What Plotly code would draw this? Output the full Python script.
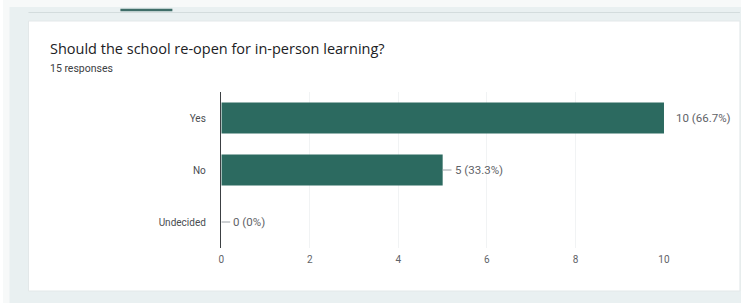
import plotly.graph_objects as go

categories = ["Yes", "No", "Undecided"]
counts = [10, 5, 0]
percents = ["66.7%", "33.3%", "0%"]
total_responses = 15
title_text = "Should the school re-open for in-person learning?"

W, H = 747, 303
BAR = "#2c6a60"
LABEL = "#5f6368"

labels = [f"{c} ({p})" for c, p in zip(counts, percents)]

fig = go.Figure()
fig.add_trace(go.Bar(
    y=categories, x=counts, orientation="h",
    marker=dict(color=BAR, line=dict(width=0)),
    width=0.6, hoverinfo="skip",
))
vmax = max(counts)
for c, v in zip(categories, counts):
    if v < vmax:
        fig.add_trace(go.Scatter(
            x=[v, v + 0.2], y=[c, c], mode="lines",
            line=dict(color="#9aa0a6", width=1), hoverinfo="skip",
            showlegend=False, cliponaxis=False,
        ))

# the photographed page comes out slightly narrower horizontally; compensate
SX, OX = 0.9887, 2.5

def px(x):
    return ((x - OX) / SX) / W

def py(y):
    return 1 - y / H

shapes = [
    dict(type="rect", xref="paper", yref="paper", x0=0, x1=1, y0=0, y1=1,
         fillcolor="#e9f0f1", line=dict(width=0), layer="below"),
    dict(type="rect", xref="paper", yref="paper", x0=0, x1=px(9), y0=0, y1=1,
         fillcolor="#f7f9f9", line=dict(width=0), layer="below"),
    dict(type="rect", xref="paper", yref="paper", x0=0, x1=1, y0=py(7), y1=1,
         fillcolor="#f7f9f9", line=dict(width=0), layer="below"),
    dict(type="line", xref="paper", yref="paper", x0=px(28), x1=px(740), y0=py(12.5), y1=py(12.5),
         line=dict(color="#d3dcdd", width=1), layer="below"),
    dict(type="line", xref="paper", yref="paper", x0=px(120), x1=px(172), y0=py(10), y1=py(10),
         line=dict(color="#3f6e69", width=2.5), layer="below"),
    dict(type="rect", xref="paper", yref="paper", x0=px(28), x1=px(740), y0=py(291), y1=py(21),
         fillcolor="#ffffff", line=dict(color="#e3e8e9", width=1), layer="below"),
]

annotations = [
    dict(xref="paper", yref="paper", x=px(48), y=py(48.5), xanchor="left", yanchor="middle",
         text=title_text, showarrow=False,
         font=dict(family="Open Sans", size=14.5, color="#202124")),
    dict(xref="paper", yref="paper", x=px(48), y=py(68), xanchor="left", yanchor="middle",
         text=f"{total_responses} responses", showarrow=False,
         font=dict(family="Roboto", size=10.5, color="#3c4043")),
]
for c, v, t in zip(categories, counts, labels):
    annotations.append(dict(
        x=v, y=c, xref="x", yref="y", xanchor="left", yanchor="middle",
        xshift=10, text=t, showarrow=False,
        font=dict(family="Roboto", size=11.5, color=LABEL),
    ))

fig.update_layout(
    width=W, height=H,
    margin=dict(l=0, r=0, t=0, b=0),
    paper_bgcolor="#ffffff", plot_bgcolor="rgba(0,0,0,0)",
    showlegend=False,
    shapes=shapes, annotations=annotations,
    xaxis=dict(
        domain=[px(221), px(664)], range=[0, 10],
        tickvals=[0, 2, 4, 6, 8, 10], ticks="",
        showgrid=True, gridcolor="#f1f3f4", gridwidth=1,
        zeroline=False, showline=False,
        tickfont=dict(family="Roboto", size=10, color=LABEL),
        ticklabelstandoff=4, fixedrange=True,
    ),
    yaxis=dict(
        domain=[py(248), py(92)], range=[2.5, -0.5],
        categoryorder="array", categoryarray=categories,
        ticks="", showgrid=False, zeroline=False,
        showline=True, linecolor="#3c4043", linewidth=1.5,
        tickfont=dict(family="Roboto", size=10, color="#4a4d51"),
        ticklabelstandoff=12, fixedrange=True,
    ),
)

post = (
    "document.documentElement.style.margin='0';"
    "document.documentElement.style.padding='0';"
    "document.documentElement.style.overflow='hidden';"
    "document.body.style.margin='0';"
    "document.body.style.padding='0';"
    "document.body.style.overflow='hidden';"
)
fig.write_html("out.html", config={"displayModeBar": False, "staticPlot": True},
               post_script=post)
